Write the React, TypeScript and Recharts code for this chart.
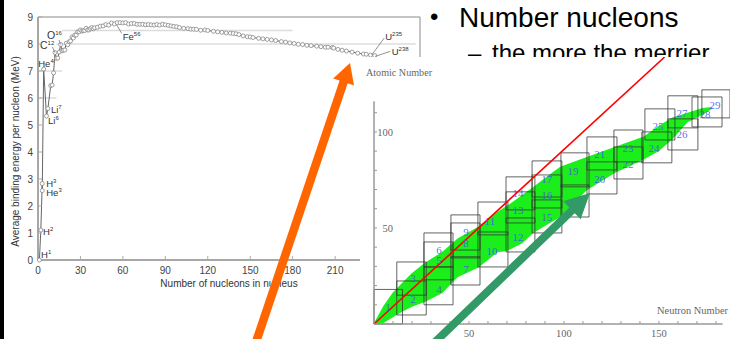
import React from 'react';
import {
  ComposedChart,
  Line,
  Scatter,
  Area,
  XAxis,
  YAxis,
  ReferenceLine,
  ReferenceArea,
} from 'recharts';

// ---------- Binding energy curve ----------
const massNumber = [
  1, 2, 3, 3, 4, 6, 7, 9, 10, 11, 12, 13, 14, 15, 16, 17, 18, 19, 20, 21, 22, 23, 24, 25, 26, 27, 28, 29, 30,
  31, 32, 33, 34, 35, 36, 37, 38, 39, 40, 42, 44, 46, 48, 50, 52, 54, 56, 58, 60, 62, 64, 66, 68, 70, 72, 74,
  76, 78, 80, 82, 84, 86, 88, 90, 92, 94, 96, 98, 100, 103, 106, 108, 110, 112, 115, 118, 120, 124, 127, 130,
  133, 136, 138, 140, 142, 145, 148, 150, 152, 156, 159, 162, 165, 168, 172, 175, 178, 181, 184, 187, 190,
  193, 197, 200, 203, 205, 208, 209, 212, 215, 218, 222, 226, 230, 232, 235, 238,
];
const bindingEnergy = [
  0, 1.11, 2.83, 2.57, 7.07, 5.33, 5.61, 6.46, 6.48, 6.93, 7.68, 7.47, 7.48, 7.7, 7.98, 7.75, 7.77, 7.78, 8.03,
  7.97, 8.08, 8.11, 8.26, 8.22, 8.33, 8.33, 8.45, 8.45, 8.52, 8.48, 8.49, 8.5, 8.58, 8.52, 8.52, 8.57, 8.61,
  8.56, 8.6, 8.62, 8.66, 8.67, 8.72, 8.7, 8.78, 8.74, 8.79, 8.79, 8.78, 8.79, 8.74, 8.76, 8.76, 8.73, 8.73,
  8.73, 8.71, 8.72, 8.71, 8.7, 8.72, 8.7, 8.73, 8.71, 8.69, 8.67, 8.65, 8.64, 8.61, 8.58, 8.57, 8.55, 8.55,
  8.54, 8.51, 8.52, 8.5, 8.47, 8.45, 8.43, 8.41, 8.4, 8.39, 8.38, 8.35, 8.3, 8.27, 8.26, 8.24, 8.21, 8.19,
  8.17, 8.15, 8.13, 8.09, 8.07, 8.04, 8.02, 7.99, 7.98, 7.95, 7.94, 7.92, 7.9, 7.88, 7.88, 7.87, 7.85, 7.8,
  7.77, 7.74, 7.7, 7.66, 7.63, 7.62, 7.59, 7.57,
];
const curveData = massNumber.map((A, i) => ({ A, E: bindingEnergy[i] }));

const isotopeSymbol = ['H', 'H', 'H', 'He', 'He', 'Li', 'Li', 'C', 'O', 'Fe', 'U', 'U'];
const isotopeMass = ['1', '2', '3', '3', '4', '6', '7', '12', '16', '56', '235', '238'];
const isotopeA = [1, 2, 3, 3, 4, 6, 7, 12, 16, 56, 235, 238];
const isotopeE = [0, 1.11, 2.83, 2.57, 7.07, 5.33, 5.61, 7.68, 7.98, 8.79, 7.59, 7.57];
const isotopeData = isotopeA.map((A, i) => ({
  A,
  E: isotopeE[i],
  sym: isotopeSymbol[i],
  mass: isotopeMass[i],
}));

const nucleonTicks = [0, 30, 60, 90, 120, 150, 180, 210, 240, 270];
const energyTicks = [0, 1, 2, 3, 4, 5, 6, 7, 8, 9];

// guide lines (energy, from A, to A)
const guideEnergy = [8.5, 8, 7, 6];
const guideFrom = [17, 13, 0, 0];
const guideTo = [180, 267, 17, 13];

// ---------- Nuclide chart ----------
const bandN = [0, 5, 10, 15, 20, 27, 36, 44, 55, 65, 70, 78, 84, 90, 98, 112, 127, 142, 150, 157, 165, 173, 178];
const bandLow = [0, 0.5, 3.5, 6.5, 9, 11.6, 16.2, 24.3, 29.4, 37.3, 38, 42, 47.5, 51, 55.7, 69.6, 78.7, 85.6, 90, 96, 105, 108.9, 112];
const bandHigh = [0.5, 9.5, 16.5, 21.6, 26.5, 32, 37.6, 44.5, 50.7, 58.5, 61.5, 67.2, 71.5, 76, 81.8, 87, 92.3, 97.6, 103.2, 107.5, 110, 112.5, 113];
const bandData = bandN.map((N, i) => ({ N, range: [bandLow[i], bandHigh[i]] }));

const shellNumber = [
  1, 2, 3, 4, 5, 6, 7, 8, 9, 10, 11, 12, 13, 14, 15, 16, 17, 18, 19, 20, 21, 22, 23, 24, 25, 26, 27, 28, 29,
];
const shellN1 = [0, 12, 12, 26.3, 26.3, 26.3, 40.5, 40.5, 40.5, 54.7, 54.7, 69.5, 69.5, 69.5, 83.2, 83.2, 83.2, 98.4, 98.4, 112.1, 112.1, 126.3, 126.3, 141, 142.6, 154.7, 154.7, 167.4, 172.6];
const shellN2 = [15, 27.5, 27.5, 41.6, 41.6, 41.6, 55.8, 55.8, 55.8, 70.5, 70.5, 84.7, 84.7, 84.7, 98.9, 98.9, 98.9, 113.2, 113.2, 127.9, 127.9, 141.6, 141.6, 156.8, 158.4, 170.5, 170.5, 183.2, 187.4];
const shellZ1 = [0, 4.7, 15, 10, 23, 29.7, 20.3, 34.4, 38.5, 29.7, 46.4, 37.5, 52.6, 59.4, 47.4, 60.4, 66.1, 55.7, 71.4, 67.7, 80.2, 75.5, 84.4, 83.9, 95.8, 90.6, 102.1, 102.6, 107.3];
const shellZ2 = [18, 22.4, 32.3, 29.7, 42.7, 47.4, 35, 52.6, 56.8, 47.9, 63.5, 55.2, 68.8, 76.6, 64.6, 77.6, 84.9, 72.4, 89.1, 84.4, 97.4, 92.2, 101, 100, 112, 106.8, 118.8, 118.2, 121.9];
const shellLabelN = [7.4, 20.5, 20.5, 34.2, 34.2, 34.2, 48.4, 48.4, 48.4, 62.1, 61, 75.8, 75.8, 75.8, 91, 91, 91, 104.7, 104.7, 118.9, 118.9, 133.7, 133.7, 147.4, 149.5, 162.1, 162.1, 174.2, 179.5];
const shellLabelZ = [8.9, 13, 24, 18.2, 33.3, 38.5, 28.6, 42.2, 47.9, 38, 53.6, 45.3, 59.4, 68.2, 55.7, 67.2, 75.5, 63.5, 79.7, 75.5, 88.5, 83.3, 91.7, 91.7, 103.1, 99, 109.9, 109.4, 114];
const shellLabelData = shellNumber.map((s, i) => ({ N: shellLabelN[i], Z: shellLabelZ[i], label: String(s) }));

const neutronTicks = [0, 10, 20, 30, 40, 50, 60, 70, 80, 90, 100, 110, 120, 130, 140, 150, 160, 170, 180];
const protonTicks = [0, 10, 20, 30, 40, 50, 60, 70, 80, 90, 100, 110];
const neutronLabelTicks = [50, 100, 150];
const protonLabelTicks = [50, 100];

// ---------- styles ----------
const SANS = '"Liberation Sans", Arial, sans-serif';
const SERIF = '"Liberation Serif", "DejaVu Serif", serif';

const isoStyle: Record<string, { dx: number; dy: number; fs: number; lead?: [number, number, number, number] }> = {
  H1: { dx: 1.6, dy: -2, fs: 9.5 },
  H2: { dx: 2.2, dy: 5, fs: 9.5 },
  H3: { dx: 4, dy: 3.5, fs: 9.5 },
  He3: { dx: 4, dy: 5.8, fs: 9.5 },
  He4: { dx: -5.4, dy: -2.6, fs: 9.5 },
  Li6: { dx: 1.5, dy: 7.5, fs: 9.5 },
  Li7: { dx: 3, dy: 4, fs: 9.5 },
  C12: { dx: -15, dy: -4, fs: 10.5, lead: [-2.5, -5.6, 0, 0] },
  O16: { dx: -13.6, dy: -5.5, fs: 10.5, lead: [-1.6, -4.5, 0, 0] },
  Fe56: { dx: 5.5, dy: 17.5, fs: 9.5, lead: [-0.5, 2.3, 4.5, 10.6] },
  U235: { dx: 14.7, dy: -15.3, fs: 9.5, lead: [1.4, -0.3, 13.7, -17] },
  U238: { dx: 17, dy: -1, fs: 9.5, lead: [0.4, 0.8, 15.4, -4.2] },
};

const IsotopeLabel = (p: any) => {
  const { cx, cy, payload } = p;
  const key = payload.sym + payload.mass;
  const s = isoStyle[key];
  if (!s) return <g />;
  return (
    <g>
      {s.lead && (
        <line
          x1={cx + s.lead[0]}
          y1={cy + s.lead[1]}
          x2={cx + s.lead[2]}
          y2={cy + s.lead[3]}
          stroke="#777"
          strokeWidth={0.8}
        />
      )}
      <text x={cx + s.dx} y={cy + s.dy} fontSize={s.fs} fontFamily={SANS} fill="#333">
        {payload.sym}
        <tspan fontSize={6} dy={-4}>
          {payload.mass}
        </tspan>
      </text>
    </g>
  );
};

const BindXTick = (p: any) => {
  const { x, y, payload } = p;
  return (
    <g>
      {payload.value > 0 && <line x1={x} x2={x} y1={y} y2={y - 4} stroke="#aaa" strokeWidth={1} />}
      <text x={x} y={y + 13.5} textAnchor="middle" fontSize={10} fontFamily={SANS} fill="#444">
        {payload.value}
      </text>
    </g>
  );
};

const BindYTick = (p: any) => {
  const { x, y, payload } = p;
  return (
    <g>
      {payload.value > 0 && <line x1={x} x2={x + 4} y1={y} y2={y} stroke="#aaa" strokeWidth={1} />}
      <text x={x - 5} y={y + 3.6} textAnchor="end" fontSize={10} fontFamily={SANS} fill="#444">
        {payload.value}
      </text>
    </g>
  );
};

const NucXTick = (p: any) => {
  const { x, y, payload } = p;
  return (
    <g>
      <line x1={x} x2={x} y1={y} y2={y - 3} stroke="#999" strokeWidth={1} />
      {neutronLabelTicks.includes(payload.value) && (
        <text x={x} y={y + 13} textAnchor="middle" fontSize={10.5} fontFamily={SERIF} fill="#666">
          {payload.value}
        </text>
      )}
    </g>
  );
};

const NucYTick = (p: any) => {
  const { x, y, payload } = p;
  return (
    <g>
      <line x1={x} x2={x + 3} y1={y} y2={y} stroke="#999" strokeWidth={1} />
      {protonLabelTicks.includes(payload.value) && (
        <text x={x + 19} y={y + 4} textAnchor="end" fontSize={10.5} fontFamily={SERIF} fill="#666">
          {payload.value}
        </text>
      )}
    </g>
  );
};

const ShellLabel = (p: any) => {
  const { cx, cy, payload } = p;
  return (
    <text
      x={cx}
      y={cy + 4}
      textAnchor="middle"
      fontSize={11}
      fontFamily={SERIF}
      fill="#3f55ee"
      fillOpacity={0.85}
    >
      {payload.label}
    </text>
  );
};

function arrowPoints(x0: number, y0: number, x1: number, y1: number, w: number, hw: number, hl: number) {
  const dx = x1 - x0;
  const dy = y1 - y0;
  const L = Math.hypot(dx, dy);
  const ux = dx / L;
  const uy = dy / L;
  const px = -uy;
  const py = ux;
  const bx = x1 - ux * hl;
  const by = y1 - uy * hl;
  const pts = [
    [x0 + (px * w) / 2, y0 + (py * w) / 2],
    [bx + (px * w) / 2, by + (py * w) / 2],
    [bx + (px * hw) / 2, by + (py * hw) / 2],
    [x1, y1],
    [bx - (px * hw) / 2, by - (py * hw) / 2],
    [bx - (px * w) / 2, by - (py * w) / 2],
    [x0 - (px * w) / 2, y0 - (py * w) / 2],
  ];
  return pts.map((q) => q.join(',')).join(' ');
}

export default function App() {
  return (
    <div
      style={{
        position: 'absolute',
        left: 0,
        top: 0,
        width: 730,
        height: 339,
        overflow: 'hidden',
        background: '#fff',
      }}
    >
      {/* Binding energy chart */}
      <div style={{ position: 'absolute', left: 0, top: 0 }}>
        <ComposedChart
          width={430}
          height={300}
          data={curveData}
          margin={{ top: 17, right: 10, bottom: 0, left: 0 }}
        >
          <XAxis
            dataKey="A"
            type="number"
            domain={[0, 270]}
            ticks={nucleonTicks}
            interval={0}
            tickSize={0}
            tickMargin={0}
            tick={BindXTick}
            height={40}
            axisLine={{ stroke: '#8a8a8a', strokeWidth: 1.5 }}
            label={{
              content: (lp: any) => {
                const vb = lp.viewBox || { x: 38, y: 260, width: 382 };
                return (
                  <text
                    x={vb.x + vb.width / 2}
                    y={vb.y + 27}
                    textAnchor="middle"
                    fontSize={10}
                    fontFamily={SANS}
                    fill="#333"
                  >
                    Number of nucleons in nucleus
                  </text>
                );
              },
            }}
          />
          <YAxis
            type="number"
            domain={[0, 9]}
            ticks={energyTicks}
            interval={0}
            width={38}
            tickSize={0}
            tickMargin={0}
            tick={BindYTick}
            axisLine={{ stroke: '#8a8a8a', strokeWidth: 1.5 }}
            label={{
              content: (lp: any) => {
                const vb = lp.viewBox || { x: 0, y: 17, height: 243 };
                const cx = vb.x + 15;
                const cy = vb.y + vb.height / 2 + 13;
                return (
                  <text
                    x={cx}
                    y={cy}
                    transform={`rotate(-90 ${cx} ${cy})`}
                    textAnchor="middle"
                    dominantBaseline="central"
                    fontSize={10}
                    fontFamily={SANS}
                    fill="#333"
                  >
                    Average binding energy per nucleon (MeV)
                  </text>
                );
              },
            }}
          />
          {guideEnergy.map((e, i) => (
            <ReferenceLine
              key={'g' + i}
              segment={[
                { x: guideFrom[i], y: e },
                { x: guideTo[i], y: e },
              ]}
              stroke="#dcdcdc"
              strokeWidth={1.5}
            />
          ))}
          <ReferenceLine y={9} stroke="#8a8a8a" strokeWidth={1} />
          <ReferenceLine x={270} stroke="#8a8a8a" strokeWidth={1} />
          <Line
            dataKey="E"
            type="linear"
            stroke="#666"
            strokeWidth={1}
            dot={{ r: 2, stroke: '#888', strokeWidth: 0.8, fill: '#fff' }}
            isAnimationActive={false}
          />
          <Scatter data={isotopeData} dataKey="E" shape={IsotopeLabel} isAnimationActive={false} />
        </ComposedChart>
      </div>

      {/* Slide text */}
      <svg width={730} height={339} style={{ position: 'absolute', left: 0, top: 0 }}>
        <text x={430} y={25} fontSize={24} fontFamily={SANS} fill="#000">
          •
        </text>
        <text x={459} y={27} fontSize={28} fontFamily={SANS} fill="#000">
          Number nucleons
        </text>
        <text x={468} y={61} fontSize={24} fontFamily={SANS} fill="#000">
          –
        </text>
        <text x={492} y={61} fontSize={24} fontFamily={SANS} fill="#000">
          the more the merrier
        </text>
      </svg>

      {/* Nuclide chart */}
      <div style={{ position: 'absolute', left: 360, top: 57, width: 370, height: 282, background: '#fff' }}>
        <ComposedChart
          width={370}
          height={282}
          data={bandData}
          margin={{ top: 0, right: 0, bottom: 0, left: 0 }}
        >
          <XAxis
            dataKey="N"
            type="number"
            domain={[0, 187.4]}
            allowDataOverflow
            ticks={neutronTicks}
            interval={0}
            tickSize={0}
            tickMargin={0}
            tick={NucXTick}
            height={15}
            axisLine={false}
            label={{
              content: (lp: any) => {
                const vb = lp.viewBox || { x: 14, y: 267 };
                return (
                  <text
                    x={vb.x + 283}
                    y={vb.y - 10}
                    fontSize={11}
                    fontFamily={SERIF}
                    fill="#666"
                    textLength={71}
                    lengthAdjust="spacingAndGlyphs"
                  >
                    Neutron Number
                  </text>
                );
              },
            }}
          />
          <YAxis
            type="number"
            domain={[0, 139]}
            allowDataOverflow
            ticks={protonTicks}
            interval={0}
            width={14}
            tickSize={0}
            tickMargin={0}
            tick={NucYTick}
            axisLine={false}
            label={{
              content: (lp: any) => {
                const vb = lp.viewBox || { x: 0, y: 0 };
                return (
                  <text
                    x={vb.x + 6}
                    y={vb.y + 19}
                    fontSize={11}
                    fontFamily={SERIF}
                    fill="#666"
                    textLength={66}
                    lengthAdjust="spacingAndGlyphs"
                  >
                    Atomic Number
                  </text>
                );
              },
            }}
          />
          <Area
            dataKey="range"
            type="linear"
            stroke="none"
            fill="#1bee1b"
            fillOpacity={1}
            isAnimationActive={false}
          />
          {shellNumber.map((s, i) => (
            <ReferenceArea
              key={'b' + s}
              x1={shellN1[i]}
              x2={shellN2[i]}
              y1={shellZ1[i]}
              y2={shellZ2[i]}
              fill="none"
              fillOpacity={0}
              stroke="#333"
              strokeOpacity={0.85}
              strokeWidth={0.9}
              ifOverflow="visible"
            />
          ))}
          <ReferenceLine
            segment={[
              { x: 0, y: 0 },
              { x: 183.5, y: 0 },
            ]}
            stroke="#999"
            strokeWidth={1.5}
          />
          <ReferenceLine
            segment={[
              { x: 0, y: 0 },
              { x: 0, y: 116 },
            ]}
            stroke="#999"
            strokeWidth={1.5}
          />
          <ReferenceLine
            segment={[
              { x: 0, y: 0 },
              { x: 153, y: 139 },
            ]}
            stroke="#ff0000"
            strokeWidth={1.6}
          />
          <Scatter data={shellLabelData} dataKey="Z" shape={ShellLabel} isAnimationActive={false} />
        </ComposedChart>
      </div>

      {/* Black left edge */}
      <div style={{ position: 'absolute', left: 0, top: 0, width: 4, height: 339, background: '#000' }} />

      {/* Arrows */}
      <svg width={730} height={339} style={{ position: 'absolute', left: 0, top: 0 }}>
        <polygon points={arrowPoints(255, 345, 350, 63, 8.5, 22, 20)} fill="#ff6600" />
        <polygon points={arrowPoints(432, 345, 590, 193, 8, 25, 25)} fill="#339966" />
      </svg>
    </div>
  );
}
